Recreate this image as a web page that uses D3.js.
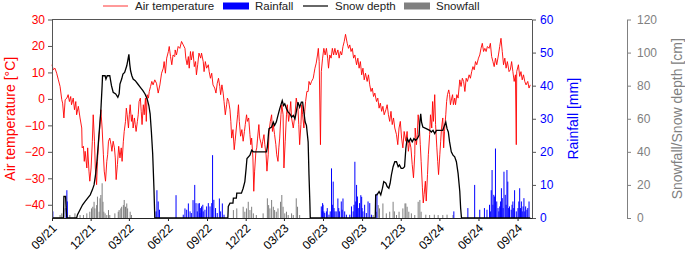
<!DOCTYPE html>
<html>
<head>
<meta charset="utf-8">
<script src="https://cdn.jsdelivr.net/npm/d3@7"></script>
<style>
  body { margin: 0; background: #fff; }
  svg { display: block; font-family: "Liberation Sans", Arial, sans-serif; }
</style>
</head>
<body>
<svg id="chart" width="685" height="254"></svg>
<script>
// day offsets are counted from 2021-09-01
const startDay = new Date(2021, 8, 1);
const endDay = new Date(2024, 9, 5);
const tickMonths = ["2021-09", "2021-12", "2022-03", "2022-06", "2022-09", "2022-12",
  "2023-03", "2023-06", "2023-09", "2023-12", "2024-03", "2024-06", "2024-09"];
const tempTicks = [-40, -30, -20, -10, 0, 10, 20, 30];
const rainTicks = [0, 10, 20, 30, 40, 50, 60];
const snowTicks = [0, 20, 40, 60, 80, 100, 120];

// [day, °C]
const airTemp = [
  [0,12.9],[3,11.0],[7,11.6],[11,9.7],[15,7.2],[19,4.7],[23,-0.3],[25,-1.6],[28,-7.2],[31,-0.3],[35,0.3],[38,1.6],[41,-1.0],[44,0.9],[46,-2.2],[50,0.3],[53,-4.1],[56,-1.0],[58,-6.0],[62,-2.8],[66,-7.2],[70,-11.0],[71,-18.5],[74,-17.9],[76,-23.6],[78,-19.8],[82,-26.1],[84,-18.5],[87,-27.3],[89,-31.1],[92,-26.1],[95,-16.0],[97,-6.0],[100,-16.0],[102,-26.1],[105,-32.4],[107,-23.6],[111,-13.5],[113,-9.7],[115,-4.1],[118,-11.0],[121,-21.1],[123,-27.3],[126,-31.1],[129,-23.6],[131,-21.1],[133,-16.0],[136,-14.8],[139,-17.3],[141,-19.8],[144,-16.0],[147,-18.5],[149,-22.3],[151,-30.5],[154,-24.8],[157,-17.9],[160,-22.3],[163,-18.5],[165,-23.6],[168,-16.0],[170,-12.3],[173,-8.5],[175,-3.5],[177,-6.0],[180,-11.0],[182,-6.0],[184,-2.2],[187,-8.5],[189,-6.0],[191,-11.0],[194,-7.2],[196,-9.7],[198,-12.3],[201,-8.5],[203,-6.0],[205,-1.0],[208,0.3],[210,-4.7],[212,-9.7],[215,-2.2],[217,-6.0],[220,0.3],[222,-8.5],[224,1.6],[227,0.3],[229,2.8],[232,4.7],[235,6.6],[238,5.3],[242,7.2],[246,5.9],[250,2.2],[254,5.3],[258,9.7],[262,11.6],[264,14.1],[267,9.7],[270,15.4],[274,17.9],[276,19.8],[279,16.0],[282,12.9],[285,16.6],[289,16.0],
  [290,18.5],[293,16.6],[297,19.8],[301,19.1],[305,21.7],[309,20.4],[313,19.1],[315,15.4],[318,12.9],[321,16.0],[323,11.6],[326,17.9],[328,14.7],[332,17.9],[335,12.2],[338,14.1],[340,9.1],[343,12.9],[346,17.3],[350,15.4],[352,17.3],[356,14.1],[358,10.3],[361,14.1],[364,11.6],[368,12.9],[370,10.3],[373,7.8],[376,9.7],[379,5.3],[383,4.1],[386,2.2],[389,5.9],[392,7.8],[395,4.7],[397,1.6],[400,5.3],[403,2.2],[405,-1.0],[408,-6.0],[411,-2.2],[413,0.3],[416,-1.0],[419,-4.1],[421,-8.5],[423,-14.8],[426,-11.6],[429,-19.2],[431,-16.0],[434,-11.0],[437,-6.0],[439,-2.2],[441,-8.5],[444,-14.1],[447,-11.6],[450,-16.0],[453,-12.3],[455,-9.7],[458,-6.0],[460,-8.5],[463,-7.2],[466,-13.5],[468,-17.3],[470,-14.8],[473,-22.3],[475,-34.9],[477,-27.3],[480,-19.8],[482,-18.5],[484,-14.8],[487,-9.7],[489,-14.8],[492,-16.7],[494,-18.5],[496,-16.0],[499,-13.5],[501,-17.3],[504,-21.1],[506,-27.3],[509,-21.1],[511,-12.3],[514,-8.5],[517,-6.0],[519,-12.3],[521,-9.7],[524,-13.5],[527,-17.3],[529,-21.1],[532,-23.6],[534,-18.5],[536,-14.8],[539,-6.0],[541,-2.2],[544,-6.0],[546,-26.1],[549,-16.0],[552,-6.0],[554,-2.2],[557,-8.5],[560,-4.7],[562,-1.0],[564,-7.2],[568,-11.0],[572,-6.0],
  [575,0.3],[579,-3.5],[581,-9.7],[583,-17.3],[586,-9.7],[588,-2.2],[590,-6.0],[593,-11.0],[595,-4.7],[597,-1.0],[600,2.8],[603,2.8],[605,6.6],[608,5.3],[611,6.6],[615,7.8],[617,9.7],[619,11.6],[622,13.5],[625,16.6],[627,19.1],[629,14.1],[632,-17.3],[634,10.3],[637,15.4],[640,19.1],[643,16.6],[646,19.1],[649,15.4],[651,11.6],[654,16.6],[657,15.4],[660,19.1],[663,16.6],[666,19.1],[669,16.6],[673,18.5],[676,15.4],[679,17.9],[682,16.6],[685,19.8],[688,21.7],[691,24.4],[695,21.0],[698,19.1],[701,20.4],[704,17.9],[707,19.1],[710,15.4],[713,16.6],[717,12.9],[720,15.4],[723,11.6],[726,14.1],[729,9.1],[732,11.6],[735,7.2],[738,9.7],[742,6.6],[745,9.1],[748,5.3],[751,2.8],[754,4.1],[757,0.9],[760,2.2],[764,-1.0],[767,0.3],[770,-3.5],[773,-1.6],[776,-4.7],[779,-2.8],[782,-6.0],[786,-4.1],[789,-2.2],[792,-6.0],[795,-8.5],[798,-4.7],[801,-9.7],[804,-7.2],[807,-11.0],[811,-13.5],[814,-17.3],[817,-11.0],[820,-8.5],[823,-14.8],[826,-18.5],[829,-12.3],[833,-16.0],[836,-12.3],[839,-19.8],[842,-16.0],[845,-18.5],[848,-24.8],[851,-29.8],[854,-21.1],
  [855,-11.0],[858,-17.3],[860,-13.5],[862,-6.0],[865,-11.0],[867,-17.3],[869,-23.6],[872,-33.6],[874,-39.3],[876,-36.1],[879,-31.1],[881,-38.6],[884,-28.6],[886,-21.1],[889,-13.5],[891,-6.0],[894,-11.0],[896,-1.0],[898,-8.5],[901,1.6],[903,-9.7],[906,-18.5],[908,-23.6],[910,-28.6],[913,-21.1],[915,-16.0],[917,-11.0],[920,-7.2],[922,-18.5],[924,-12.3],[927,-6.0],[929,-1.0],[931,1.6],[934,3.4],[936,1.6],[938,-2.2],[941,0.3],[943,1.6],[945,-2.2],[948,0.3],[950,-2.2],[953,1.6],[956,0.3],[960,7.2],[963,4.7],[966,7.8],[969,6.6],[972,2.8],[975,7.8],[978,6.6],[982,9.1],[985,7.8],[988,10.3],[991,12.2],[994,11.0],[997,14.1],[1000,12.9],[1004,15.4],[1007,16.6],[1010,19.1],[1013,21.0],[1016,17.9],[1019,19.1],[1022,17.9],[1025,19.8],[1029,19.1],[1032,21.0],[1035,16.0],[1038,14.1],[1041,12.2],[1044,15.4],[1047,12.9],[1051,16.6],[1054,19.8],[1057,22.9],[1060,17.9],[1063,12.9],[1066,15.4],[1069,11.6],[1072,14.1],[1076,10.3],[1079,11.0],[1082,14.1],[1085,10.3],[1088,6.6],[1091,9.1],[1093,-17.3],[1094,10.3],[1098,12.9],[1101,8.5],[1104,10.3],[1107,7.2],[1110,9.1],[1113,6.6],[1116,5.3],[1120,6.6],[1123,4.1],[1126,5.3]
];

// [day, cm]
const snowDepth = [
  [0,0],[27,0],[28,13],[32,13],[33,7],[35,0],[58,0],[60,2],[66,5],[72,8],[78,10],[84,12],[90,14],[95,17],[99,20],[103,27],[106,35],[109,45],[112,55],[115,65],[118,80],[119,86],[125,86],[127,84],[130,86],[136,86],[140,80],[144,76],[150,75],[155,73],[158,75],[160,81],[164,84],[167,87],[171,88],[176,92],[179,96],[181,99],[183,93],[185,89],[188,86],[191,84],[196,83],[202,81],[208,79],[214,77],[219,75],[224,72],[228,68],[231,63],[234,52],[237,39],[240,18],[242,0],
  [414,0],[415,7],[419,9],[426,9],[427,12],[434,12],[435,15],[446,15],[450,18],[454,22],[457,30],[459,36],[466,38],[470,41],[474,40],[505,40],[507,43],[510,52],[511,54],[517,55],[521,58],[524,56],[528,58],[532,62],[536,66],[542,71],[545,68],[548,69],[552,66],[556,64],[560,63],[564,61],[568,62],[572,60],[575,64],[579,70],[583,67],[587,70],[590,70],[593,64],[596,58],[599,56],[603,46],[605,26],[607,10],[608,0],
  [761,0],[762,14],[765,14],[770,16],[774,14],[778,18],[781,22],[786,21],[789,19],[793,18],[796,21],[799,26],[803,31],[807,34],[811,34],[815,31],[818,32],[822,30],[826,30],[830,31],[833,42],[836,48],[840,46],[844,48],[848,46],[852,48],[856,47],[860,48],[864,50],[866,58],[868,63],[870,58],[873,55],[881,54],[889,53],[893,52],[897,53],[901,51],[905,53],[913,53],[920,53],[924,56],[927,58],[930,54],[933,52],[936,46],[940,40],[944,38],[948,37],[952,34],[956,27],[960,16],[962,6],[964,0],[1126,0]
];

// [day, mm]
const rainfall = [
  [2,2],[33,3],[35,8.4],[36,5],
  [245,2],[247,8.4],[250,5],[253,2.5],[292,6.9],[309,1],[313,2.9],[317,2.5],[321,4.4],[325,2],[328,1.5],[332,5.4],[336,10],[339,4.5],[342,2],[344,4.4],[347,4.5],[348,1.5],[350,3],[352,3.5],[355,4],[356,2],[360,2.5],[364,3.5],[368,4.5],[372,3.5],[376,4.5],[378,19],[381,5.5],[385,3],[389,1.5],[394,5.9],[397,2],[401,4.4],[405,1],
  [634,3.5],[636,2],[637,4.5],[638,4],[640,2],[642,1.5],[646,2],[648,3],[652,1],[655,2],[658,15],[660,4],[662,11],[664,3],[666,2],[669,2],[673,5.9],[675,3],[677,2],[681,5],[683,2.5],[685,5.9],[689,2],[693,1],[701,1],[705,3.5],[709,2],[711,4],[713,17],[715,5],[717,10],[719,6.5],[721,3],[724,4.5],[727,6.9],[729,6.4],[730,3],[732,2],[736,4],[740,1.5],[744,5],[748,4.5],[752,1],[765,7.4],
  [946,2],[979,3],[995,10],[1007,2.5],[1018,3],[1024,2.5],[1030,4],[1032,2],[1034,8.4],[1036,14.5],[1038,4],[1040,7],[1042,6.5],[1044,21],[1047,5],[1050,3],[1052,2],[1054,3.5],[1056,5],[1058,9],[1060,6],[1062,3],[1064,14],[1067,7],[1069,4],[1071,14.5],[1073,11],[1075,3],[1077,3.5],[1081,2.5],[1083,4],[1085,5],[1087,3],[1089,8.4],[1093,2],[1097,3],[1099,5],[1101,9],[1103,3],[1105,5],[1107,2],[1109,3.5],[1111,6],[1113,2],[1115,3.5],[1118,2.5],[1120,3],[1123,5]
];

// [day, cm]
const snowfall = [
  [19,1.8],[23,2.8],[28,5.8],[42,1.8],[54,2.8],[66,1.8],[74,1.8],[82,2.8],[89,3.8],[93,5.8],[96,6.8],[99,9.8],[101,5.8],[105,7.8],[107,12.9],[111,3.8],[113,11.9],[115,13.9],[118,21],[120,9.8],[122,3.8],[125,2.8],[129,1.8],[133,4.8],[136,1.8],[148,2.8],[156,3.8],[158,4.8],[162,5.8],[164,6.8],[168,7.8],[170,10.9],[173,6.8],[176,8.8],[178,5.8],[184,3.8],[187,1.8],
  [427,4.8],[435,5.8],[450,6.8],[454,3.8],[458,5.8],[462,9.8],[466,4.8],[470,6.8],[474,2.8],[481,1.8],[497,2.8],[507,11.9],[510,7.8],[513,5.8],[517,10.9],[521,6.8],[524,4.8],[528,3.8],[532,5.8],[538,9.8],[541,13.9],[544,6.8],[548,2.8],[552,3.8],[556,1.8],[564,2.8],[568,1.8],[575,11.9],[578,6.8],[583,1.8],
  [756,1.8],[764,3.8],[768,7.8],[771,5.8],[779,8.8],[787,2.8],[795,3.8],[803,9.8],[806,4],[811,1.8],[817,3.8],[826,5.8],[831,8.8],[833,8.8],[836,6.8],[840,3.8],[846,2.8],[854,1.8],[862,9.8],[866,10.9],[869,3.8],[880,2],[889,1.8],[900,2],[909,1.8],[920,1.8],[930,2],[944,1.8]
];

const settings = {
  left: 52,
  right: 532,
  top: 19.5,
  bottom: 218,
  snowAxisX: 627,
  tickFont: "12px",
  titleFont: "14px",
};

const svg = d3.select("#chart");
const day = (d) => d3.timeDay.offset(startDay, d);
const parseMonth = d3.timeParse("%Y-%m");

const x = d3.scaleTime().domain([startDay, endDay]).range([settings.left, settings.right]);
const yTemp = d3.scaleLinear().domain([-45, 30]).range([settings.bottom, settings.top]);
const yRain = d3.scaleLinear().domain([0, 60]).range([settings.bottom, settings.top]);
const ySnow = d3.scaleLinear().domain([0, 120]).range([settings.bottom, settings.top]);

// bars first, lines on top
svg.append("g")
  .attr("class", "snowfall")
  .selectAll("rect")
  .data(snowfall)
  .join("rect")
  .attr("x", (d) => x(day(d[0])) - 0.5)
  .attr("y", (d) => ySnow(d[1]))
  .attr("width", 1)
  .attr("height", (d) => settings.bottom - ySnow(d[1]))
  .attr("fill", "#808080");

svg.append("g")
  .attr("class", "rainfall")
  .selectAll("rect")
  .data(rainfall)
  .join("rect")
  .attr("x", (d) => x(day(d[0])) - 0.5)
  .attr("y", (d) => yRain(d[1]))
  .attr("width", 1)
  .attr("height", (d) => settings.bottom - yRain(d[1]))
  .attr("fill", "#0000ff");

svg.append("path")
  .datum(airTemp)
  .attr("fill", "none")
  .attr("stroke", "#ff0000")
  .attr("stroke-width", 0.9)
  .attr("d", d3.line().x((d) => x(day(d[0]))).y((d) => yTemp(d[1])));

svg.append("path")
  .datum(snowDepth)
  .attr("fill", "none")
  .attr("stroke", "#000")
  .attr("stroke-width", 1.3)
  .attr("d", d3.line().x((d) => x(day(d[0]))).y((d) => ySnow(d[1])));

// frame top line
svg.append("line")
  .attr("x1", settings.left)
  .attr("x2", settings.right)
  .attr("y1", settings.top)
  .attr("y2", settings.top)
  .attr("stroke", "#555");

function styleAxis(g, color, lineColor) {
  g.selectAll(".domain").attr("stroke", lineColor);
  g.selectAll(".tick line").attr("stroke", lineColor);
  g.selectAll(".tick text").attr("fill", color).attr("font-size", settings.tickFont)
    .attr("font-family", "Liberation Sans, Arial, sans-serif");
}

svg.append("g")
  .attr("transform", `translate(${settings.left},0)`)
  .call(d3.axisLeft(yTemp).tickValues(tempTicks).tickSize(4).tickSizeOuter(0).tickPadding(3))
  .call((g) => styleAxis(g, "#ff0000", "#555"));

svg.append("g")
  .attr("transform", `translate(${settings.right},0)`)
  .call(d3.axisRight(yRain).tickValues(rainTicks).tickSize(4).tickSizeOuter(0).tickPadding(4))
  .call((g) => styleAxis(g, "#0000ff", "#555"));

svg.append("g")
  .attr("transform", `translate(${settings.snowAxisX},0)`)
  .call(d3.axisRight(ySnow).tickValues(snowTicks).tickSize(4).tickSizeOuter(0).tickPadding(6))
  .call((g) => styleAxis(g, "#808080", "#808080"));

svg.append("g")
  .attr("transform", `translate(0,${settings.bottom})`)
  .call(d3.axisBottom(x).tickValues(tickMonths.map(parseMonth))
    .tickFormat(d3.timeFormat("%m/%y")).tickSize(3).tickSizeOuter(0))
  .call((g) => styleAxis(g, "#000", "#222"))
  .call((g) => g.selectAll(".tick text")
    .attr("y", 0)
    .attr("dy", "0.35em")
    .attr("text-anchor", "end")
    .attr("transform", "translate(2,8) rotate(-45)"));

// axis titles
function vTitle(txt, cx, color) {
  svg.append("text")
    .attr("transform", `translate(${cx},${(settings.top + settings.bottom) / 2}) rotate(-90)`)
    .attr("text-anchor", "middle")
    .attr("dy", "0.35em")
    .attr("font-size", settings.titleFont)
    .attr("fill", color)
    .text(txt);
}
vTitle("Air temperature [°C]", 10, "#ff0000");
vTitle("Rainfall [mm]", 573, "#0000ff");
vTitle("Snowfall/Snow depth [cm]", 677, "#808080");

// legend
const legend = svg.append("g").attr("class", "legend").attr("font-size", "11.5px").attr("fill", "#222");
const legendItems = [
  { label: "Air temperature", kind: "line", color: "#ff0000", x: 103 },
  { label: "Rainfall", kind: "rect", color: "#0000ff", x: 223 },
  { label: "Snow depth", kind: "line", color: "#000", x: 303 },
  { label: "Snowfall", kind: "rect", color: "#808080", x: 404 },
];
legendItems.forEach((it) => {
  if (it.kind === "line") {
    legend.append("line")
      .attr("x1", it.x).attr("x2", it.x + 25)
      .attr("y1", 6).attr("y2", 6)
      .attr("stroke", it.color)
      .attr("stroke-width", it.color === "#000" ? 1.2 : 0.8);
  } else {
    legend.append("rect")
      .attr("x", it.x).attr("y", 2.5)
      .attr("width", 26).attr("height", 7)
      .attr("fill", it.color);
  }
  legend.append("text")
    .attr("x", it.x + 32)
    .attr("y", 10)
    .text(it.label);
});
</script>
</body>
</html>
